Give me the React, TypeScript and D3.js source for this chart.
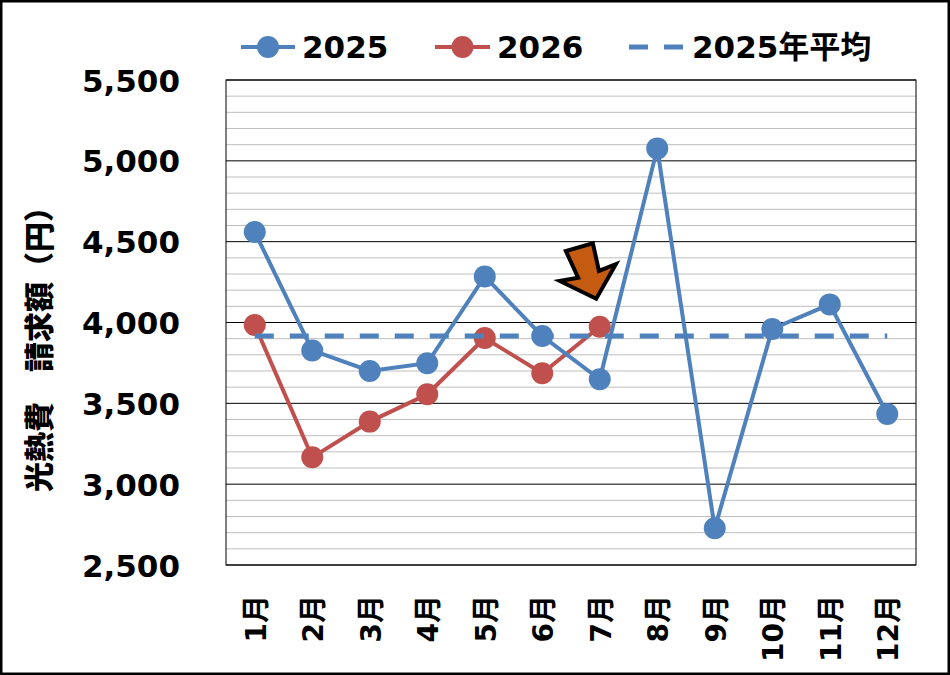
import * as d3 from 'd3'

const MONTHS = ['1月', '2月', '3月', '4月', '5月', '6月', '7月', '8月', '9月', '10月', '11月', '12月']
const VALUES_2025 = [4560, 3827, 3700, 3748, 4285, 3916, 3649, 5077, 2727, 3960, 4112, 3434]
const VALUES_2026 = [3985, 3166, 3387, 3556, 3904, 3686, 3974]
const Y_TICKS = [2500, 3000, 3500, 4000, 4500, 5000, 5500]

const W = 950, H = 675
const M = { l: 226, r: 916, t: 80, b: 565 }
const BLUE = '#4F81BD'
const RED = '#C0504D'
const FONT = '"DejaVu Sans", "Noto Sans CJK JP", sans-serif'
const CJK = '"Noto Sans CJK JP", sans-serif'

// arrow outline, relative to its tip
const ARROW = [[-0.5, -4], [-37, -21.7], [-18.6, -25], [-30.9, -51.7], [-3.9, -59.4], [2.2, -31.8], [19.1, -38.5]]

export default function App() {
  const x = d3.scaleBand<string>().domain(MONTHS).range([M.l, M.r])
  const cx = (m: string) => (x(m) ?? 0) + x.bandwidth() / 2
  const y = d3.scaleLinear().domain([2500, 5500]).range([M.b, M.t])
  const minor = d3.range(2600, 5500, 100).filter(v => v % 500 !== 0)
  const avg = d3.mean(VALUES_2025) ?? 0

  const line = d3.line<number>().x((_, i) => cx(MONTHS[i])).y(d => y(d))

  // arrow points at the last 2026 value
  const tipX = cx('7月') - 3
  const tipY = y(VALUES_2026[6]) - 24

  return (
    <svg width={W} height={H} style={{ position: 'absolute', left: 0, top: 0, background: '#fff' }}>
      <rect x={1.25} y={1.25} width={W - 2.5} height={H - 2.5} fill="#fff" stroke="#000" strokeWidth={2.5} />

      {/* grid */}
      {minor.map(v => (
        <line key={'m' + v} x1={M.l} x2={M.r} y1={y(v)} y2={y(v)} stroke="#BFBFBF" strokeWidth={1} />
      ))}
      {Y_TICKS.map(v => (
        <line key={'g' + v} x1={M.l} x2={M.r} y1={y(v)} y2={y(v)} stroke="#000" strokeWidth={1} />
      ))}
      <rect x={M.l} y={M.t} width={M.r - M.l} height={M.b - M.t} fill="none" stroke="#000" strokeWidth={1} />

      {/* y ticks */}
      {Y_TICKS.map(v => (
        <text key={'t' + v} x={180} y={y(v) + 11.5} textAnchor="end" fontFamily={FONT}
          fontWeight="bold" fontSize={31} fill="#000">{d3.format(',')(v)}</text>
      ))}
      <text transform={`translate(50,342) rotate(-90)`} textAnchor="middle" fontFamily={CJK}
        fontWeight={900} fontSize={30} fill="#000">光熱費　請求額（円）</text>

      {/* x ticks */}
      {MONTHS.map(m => (
        <text key={m} transform={`translate(${cx(m) + 11},595) rotate(-90)`} textAnchor="end"
          fontFamily={FONT} fontWeight="bold" fontSize={28} fill="#000">{m}</text>
      ))}

      {/* 2026 */}
      <path d={line(VALUES_2026) ?? ''} fill="none" stroke={RED} strokeWidth={4} />
      {VALUES_2026.map((v, i) => (
        <circle key={'r' + i} cx={cx(MONTHS[i])} cy={y(v)} r={11} fill={RED} />
      ))}

      {/* 2025 */}
      <path d={line(VALUES_2025) ?? ''} fill="none" stroke={BLUE} strokeWidth={4} />
      {VALUES_2025.map((v, i) => (
        <circle key={'b' + i} cx={cx(MONTHS[i])} cy={y(v)} r={11} fill={BLUE} />
      ))}

      {/* 2025 average */}
      <line x1={cx('1月')} x2={cx('12月')} y1={y(avg)} y2={y(avg)} stroke={BLUE} strokeWidth={5}
        strokeDasharray="19 16" />

      {/* arrow */}
      <polygon points={ARROW.map(p => `${tipX + p[0]},${tipY + p[1]}`).join(' ')}
        fill="#C55A11" stroke="#000" strokeWidth={4} strokeLinejoin="miter" />

      {/* legend */}
      <line x1={241} x2={295} y1={47} y2={47} stroke={BLUE} strokeWidth={4} />
      <circle cx={268} cy={47} r={11} fill={BLUE} />
      <text x={302} y={58} fontFamily={FONT} fontWeight="bold" fontSize={31}>2025</text>
      <line x1={435} x2={490} y1={47} y2={47} stroke={RED} strokeWidth={4} />
      <circle cx={462.5} cy={47} r={11} fill={RED} />
      <text x={497} y={58} fontFamily={FONT} fontWeight="bold" fontSize={31}>2026</text>
      <line x1={629} x2={683} y1={47} y2={47} stroke={BLUE} strokeWidth={5} strokeDasharray="19 16" />
      <text x={692} y={58} fontFamily={FONT} fontWeight="bold" fontSize={31}>2025年平均</text>
    </svg>
  )
}
